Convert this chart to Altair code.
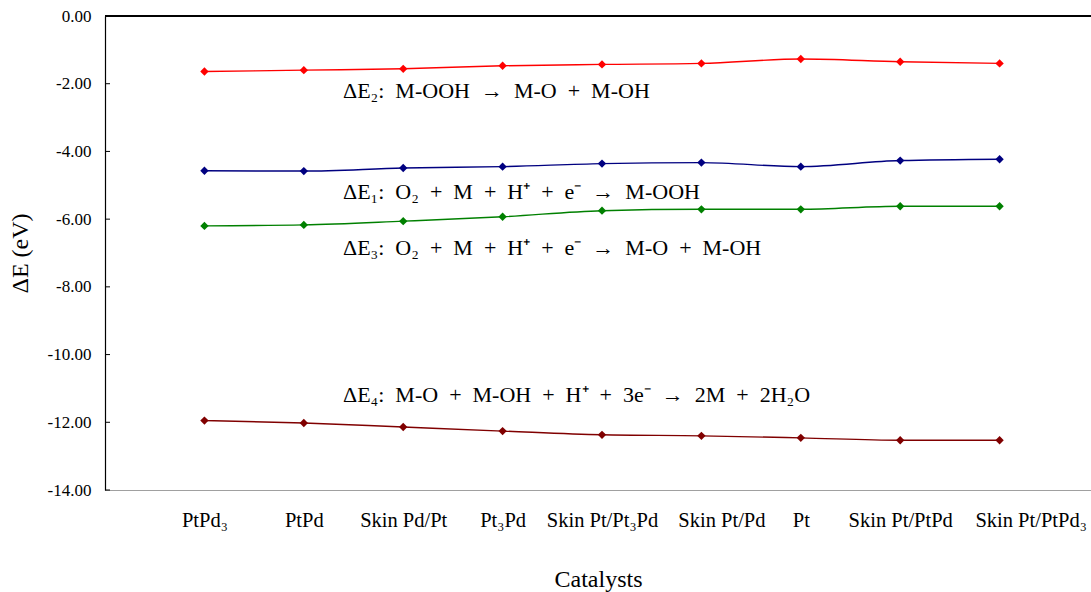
import altair as alt
import pandas as pd

# Catalysts along the x axis
catalysts = ["PtPd₃", "PtPd", "Skin Pd/Pt", "Pt₃Pd", "Skin Pt/Pt₃Pd",
             "Skin Pt/Pd", "Pt", "Skin Pt/PtPd", "Skin Pt/PtPd₃"]

# Reaction energies (eV) for each step
dE2 = [-1.64, -1.60, -1.56, -1.47, -1.43, -1.40, -1.27, -1.35, -1.40]
dE1 = [-4.57, -4.58, -4.49, -4.45, -4.36, -4.33, -4.45, -4.27, -4.23]
dE3 = [-6.20, -6.17, -6.06, -5.93, -5.75, -5.71, -5.71, -5.62, -5.62]
dE4 = [-11.95, -12.02, -12.14, -12.26, -12.37, -12.40, -12.46, -12.53, -12.53]

series_names = ["dE2", "dE1", "dE3", "dE4"]
series_colors = ["#ff0000", "#000080", "#008000", "#800000"]

# Reaction labels and the energy level they are centred on
SP = "\u00a0\u00a0"  # wide gap between terms
note_text = [
    f"ΔE₂:{SP}M-OOH{SP}→{SP}M-O{SP}+{SP}M-OH",
    f"ΔE₁:{SP}O₂{SP}+{SP}M{SP}+{SP}H⁺{SP}+{SP}e⁻{SP}→{SP}M-OOH",
    f"ΔE₃:{SP}O₂{SP}+{SP}M{SP}+{SP}H⁺{SP}+{SP}e⁻{SP}→{SP}M-O{SP}+{SP}M-OH",
    f"ΔE₄:{SP}M-O{SP}+{SP}M-OH{SP}+{SP}H⁺{SP}+{SP}3e⁻{SP}→{SP}2M{SP}+{SP}2H₂O",
]
note_y = [-2.21, -5.20, -6.86, -11.20]

y_ticks = [-14, -12, -10, -8, -6, -4, -2]

rows = []
for name, vals in zip(series_names, [dE2, dE1, dE3, dE4]):
    for cat, v in zip(catalysts, vals):
        rows.append({"series": name, "catalyst": cat, "dE": v})
df = pd.DataFrame(rows)
notes = pd.DataFrame({"text": note_text, "dE": note_y})
ticks = pd.DataFrame({"dE": y_ticks})

W, H = 986, 474
FONT = "Liberation Serif"

# Nudge crowded category labels to the right so neighbours do not collide
label_shift = {
    "condition": [
        {"test": "datum.value == 'Skin Pt/Pd'", "value": 20},
        {"test": "datum.value == 'Skin Pt/PtPd₃'", "value": 31},
    ],
    "value": 0,
}

x_enc = alt.X(
    "catalyst:N",
    sort=catalysts,
    scale=alt.Scale(type="point", padding=0.96, align=0.521),
    axis=alt.Axis(title="Catalysts", labelAngle=0, ticks=False,
                  labelPadding=20, titlePadding=37, labelFontSize=20.5,
                  titleFontSize=24, domainColor="#a0a0a0", labelLimit=300,
                  labelOffset=label_shift, labelOverlap=False),
)
y_scale = alt.Scale(domain=[-14, 0], nice=False)
y_enc = alt.Y(
    "dE:Q",
    scale=y_scale,
    axis=alt.Axis(title="ΔE (eV)", values=[-14, -12, -10, -8, -6, -4, -2, 0],
                  labelExpr="replace(format(datum.value, '.2f'), '\u2212', '-')",
                  ticks=False, grid=False, labelPadding=14,
                  labelFontSize=17, titleFontSize=24, titlePadding=15,
                  domainColor="#000000"),
)
color_enc = alt.Color("series:N", scale=alt.Scale(domain=series_names, range=series_colors),
                      legend=None)

base = alt.Chart(df)
lines = base.mark_line(interpolate="monotone", strokeWidth=1.4).encode(
    x=x_enc, y=y_enc, color=color_enc, detail="series:N")
points = base.mark_point(shape="diamond", filled=True, size=70, opacity=1).encode(
    x=x_enc, y=y_enc, color=color_enc)

labels = alt.Chart(notes).mark_text(align="left", baseline="middle", font=FONT,
                                    fontSize=22, color="#000000").encode(
    x=alt.value(238), y=alt.Y("dE:Q", scale=y_scale), text="text:N")

tick_marks = alt.Chart(ticks).mark_rule(color="#000000", strokeWidth=1).encode(
    y=alt.Y("dE:Q", scale=y_scale), x=alt.value(0), x2=alt.value(5))

top_border = alt.Chart(ticks).mark_rule(color="#000000", strokeWidth=1.2).encode(
    y=alt.datum(0, scale=y_scale), x=alt.value(0), x2=alt.value(W))

chart = alt.layer(lines, points, labels, tick_marks, top_border).properties(
    width=W, height=H,
    autosize=alt.AutoSizeParams(type="none"),
    padding={"left": 105, "top": 16, "right": 0, "bottom": 102},
).configure_view(stroke=None).configure_axis(
    labelFont=FONT, titleFont=FONT, labelColor="#000000", titleColor="#000000",
    titleFontWeight="normal", domainWidth=1.2,
)

chart.save("out.html", embed_options={"renderer": "svg", "actions": False})
